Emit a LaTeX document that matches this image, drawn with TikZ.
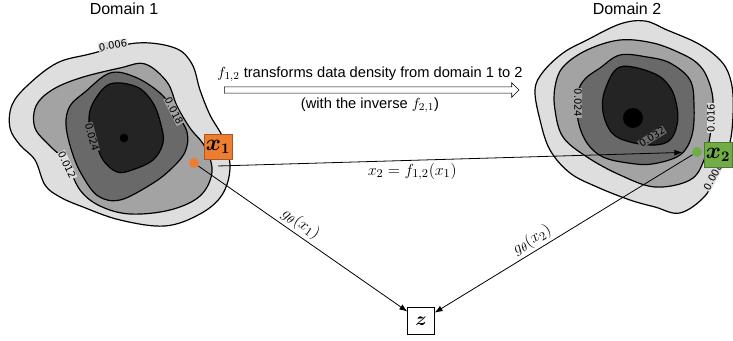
\documentclass[tikz,border=0pt]{standalone}
\usepackage{fontspec}
\setmainfont{Liberation Sans}
\newfontfamily\lvlfont{DejaVu Sans}
\usetikzlibrary{arrows.meta,shapes.arrows,positioning}
\definecolor{lvlA}{gray}{0.87}
\definecolor{lvlB}{gray}{0.64}
\definecolor{lvlC}{gray}{0.41}
\definecolor{lvlD}{gray}{0.14}
\definecolor{xorange}{HTML}{ED7D31}
\definecolor{xgreen}{HTML}{70AD47}

\begin{document}
\begin{tikzpicture}[
  x=0.75pt, y=-0.75pt,
  level/.style={draw, line width=0.9pt, fill=#1},
  lvl/.style={
    font=\lvlfont\fontsize{7.5}{7.5}\selectfont,
    inner sep=0.4pt, fill=#1
  },
  title/.style={font=\fontsize{12}{14}\selectfont},
  xbox/.style={
    draw, thin, minimum width=21pt, minimum height=18.5pt,
    inner sep=0pt, font=\fontsize{16}{16}\selectfont\boldmath
  },
  zbox/.style={
    draw, thin, fill=white, minimum size=20pt,
    inner sep=0pt, font=\fontsize{15}{15}\selectfont\boldmath
  },
  dot/.style={circle, inner sep=0pt, minimum size=#1},
  link/.style={-{Latex[length=6pt,width=4.5pt]}, line width=0.6pt},
  mathlbl/.style={font=\fontsize{12.5}{14}\selectfont, inner sep=2pt},
]
\useasboundingbox (0,0) rectangle (733,341);

% domain 1
\draw[level=lvlA] plot[smooth cycle, tension=0.6] coordinates {
  (57,63) (90,54) (137,43) (175,48) (192,64) (200,90) (210,115) (224,140)
  (230,168) (222,195) (200,214) (165,226) (120,220) (83,207) (60,197)
  (45,185) (35,160) (20,145) (10,128) (12,105) (28,85)};
\draw[level=lvlB] plot[smooth cycle, tension=0.6] coordinates {
  (80,78) (120,68) (145,64) (167,82) (177,106) (190,128) (205,147)
  (212,172) (200,196) (170,210) (130,214) (100,206) (80,190) (66,162)
  (50,146) (35,128) (36,106) (52,90)};
\draw[level=lvlC] plot[smooth cycle, tension=0.6] coordinates {
  (85,92) (110,73) (135,77) (160,93) (175,112) (187,132) (185,152)
  (170,170) (150,185) (120,200) (98,196) (82,175) (72,152) (66,125) (70,106)};
\draw[level=lvlD] plot[smooth cycle, tension=0.6] coordinates {
  (93,103) (110,84) (137,87) (153,103) (161,125) (163,143) (153,160)
  (132,170) (117,172) (103,160) (95,140) (89,122)};
\node[dot=6.5pt, fill=black] (peak1) at (124,138) {};

\node[lvl=lvlA, rotate=10] (l006) at (113,45) {0.006};
\node[lvl=lvlA, rotate=-65] (l012) at (67,165) {0.012};
\node[lvl=lvlB, rotate=-63] (l018) at (174,111) {0.018};
\node[lvl=lvlC, rotate=-75] (l024) at (92,137) {0.024};

% domain 2
\draw[level=lvlA] plot[smooth cycle, tension=0.6] coordinates {
  (563,53) (587,40) (620,24) (645,21) (667,30) (697,43) (717,57) (728,72)
  (733,95) (732,130) (727,152) (717,172) (705,196) (680,213) (655,207)
  (630,200) (597,187) (570,173) (550,150) (540,120) (535,90) (543,72)};
\draw[level=lvlB] plot[smooth cycle, tension=0.6] coordinates {
  (587,50) (620,40) (653,43) (680,53) (697,63) (707,77) (713,100)
  (711,130) (704,160) (690,180) (655,187) (620,175) (587,157) (563,137)
  (555,110) (555,87) (563,67)};
\draw[level=lvlC] plot[smooth cycle, tension=0.6] coordinates {
  (600,68) (620,55) (647,57) (670,63) (690,80) (694,105) (692,135)
  (680,155) (652,164) (628,163) (603,157) (587,143) (578,120) (578,93) (585,79)};
\draw[level=lvlD] plot[smooth cycle, tension=0.6] coordinates {
  (605,90) (620,67) (653,73) (670,87) (677,107) (677,125) (670,140)
  (655,145) (630,142) (612,133) (603,112)};
\node[dot=15pt, fill=black] (peak2) at (633,118) {};

\node[lvl=lvlA, rotate=62] (l008) at (713,177) {0.008};
\node[lvl=lvlA, rotate=90] (l016) at (711,118) {0.016};
\node[lvl=lvlB, rotate=-90] (l024b) at (578,103) {0.024};
\node[lvl=lvlC, rotate=32] (l032) at (652,137) {0.032};

% titles and transform arrow
\node[title] (dom1) at (124,9) {Domain 1};
\node[title] (dom2) at (627,9) {Domain 2};

\node[single arrow, draw, fill=white, thin, inner sep=2.2pt,
  single arrow head extend=3pt, minimum height=221pt] (flow) at (370,90) {};
\node[font=\fontsize{11}{13}\selectfont, above=0pt of flow]
  (flowtop) {$f_{1,2}$ transforms data density from domain 1 to 2};
\node[font=\fontsize{11}{13}\selectfont, below=0pt of flow]
  (flowbot) {(with the inverse $f_{2,1}$)};

% samples and latent
\node[dot=7.5pt, fill=xorange] (s1) at (194,163) {};
\node[dot=7.5pt, fill=xgreen] (s2) at (697,152) {};
\coordinate (s1out) at (218,166);
\node[zbox] (z) at (421,321) {$z$};

\draw[link, shorten >=7pt] (s1out) -- (s2)
  node[mathlbl, pos=0.41, below=0pt] {$x_2 = f_{1,2}(x_1)$};
\draw[link] (s1) -- (z)
  node[mathlbl, pos=0.46, above, sloped] {$g_\theta(x_1)$};
\draw[link] (s2) -- (z)
  node[mathlbl, pos=0.6, above, sloped] {$g_\theta(x_2)$};

\node[xbox, fill=xorange, draw=xorange!70!black] (x1) at (218,147) {$x_1$};
\node[xbox, fill=xgreen, draw=xgreen!70!black] (x2) at (718,155) {$x_2$};

\end{tikzpicture}
\end{document}
